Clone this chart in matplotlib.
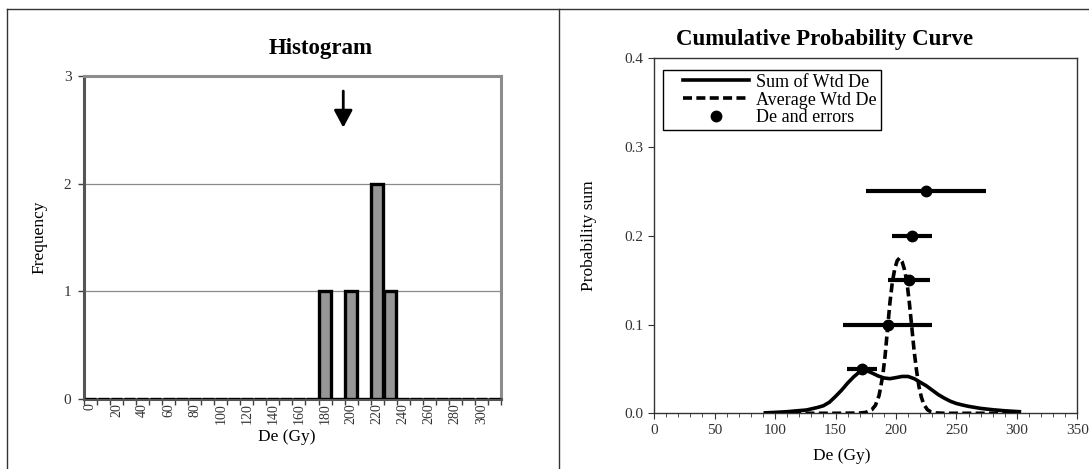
#!/usr/bin/env python3
"""Histogram of De values and the cumulative probability curve, side by side."""

import numpy as np
import matplotlib.pyplot as plt
from matplotlib.lines import Line2D
from matplotlib.legend_handler import HandlerLine2D

# histogram bins (upper bound of each 10 Gy class) and counts
bin_edges = list(range(0, 320, 10))
hist_bins = [180, 200, 220, 230]
hist_freq = [1, 1, 2, 1]
arrow_de = 194

# individual De estimates with their errors, stacked for display
de_values = [172, 193, 211, 213, 224.5]
de_errors = [12.6, 36.6, 17.5, 16.4, 49.5]
de_heights = [0.05, 0.10, 0.15, 0.20, 0.25]

# summed probability curve
sum_x = [92, 100, 110, 120, 126, 135, 140, 145, 150, 155, 160, 165, 170, 175,
         180, 185, 190, 195, 200, 205, 210, 215, 220, 225, 230, 235, 240, 245,
         250, 255, 260, 270, 280, 290, 302]
sum_p = [0.0005, 0.001, 0.0018, 0.003, 0.0037, 0.0065, 0.0085, 0.0125, 0.019,
         0.026, 0.034, 0.041, 0.0468, 0.0485, 0.0455, 0.0422, 0.0398, 0.039,
         0.0402, 0.0415, 0.0415, 0.039, 0.035, 0.031, 0.026, 0.021, 0.017,
         0.0135, 0.011, 0.0093, 0.0078, 0.0055, 0.004, 0.0028, 0.0018]

# weighted average curve
avg_x = [92, 150, 170, 175, 180, 183, 186, 189, 191, 193, 195, 197, 199, 201,
         203, 205, 207, 209, 211, 213, 215, 217, 219, 221, 223, 226, 229, 233,
         240, 300]
avg_p = [0.0, 0.0, 0.0003, 0.001, 0.004, 0.009, 0.02, 0.042, 0.065, 0.095,
         0.125, 0.148, 0.163, 0.172, 0.175, 0.171, 0.162, 0.148, 0.125, 0.098,
         0.07, 0.048, 0.03, 0.018, 0.01, 0.004, 0.0015, 0.0004, 0.0, 0.0]

plt.rcParams["font.family"] = ["Liberation Serif", "DejaVu Serif"]

fig = plt.figure(figsize=(10.89, 4.69), dpi=100)

# page frame and divider between the two panels
fig.add_artist(Line2D([0.0064, 1.0], [0.9808, 0.9808], color="#333333", lw=1))
fig.add_artist(Line2D([0.0064, 0.0064], [0.0, 0.9808], color="#333333", lw=1))
fig.add_artist(Line2D([0.5133, 0.5133], [0.0, 0.9808], color="#333333", lw=1))

# ---- histogram ----
ax1 = fig.add_axes([0.0771, 0.1493, 0.3829, 0.6887])
counts = np.zeros(len(bin_edges))
for b, f in zip(hist_bins, hist_freq):
    counts[bin_edges.index(b)] = f
idx = np.arange(len(bin_edges))
ax1.bar(idx, counts, width=0.9, color="#969696", edgecolor="black",
        linewidth=2.4, zorder=3)

ax1.set_xlim(-0.5, len(bin_edges) - 0.5)
ax1.set_ylim(0, 3)
ax1.set_yticks([0, 1, 2, 3])
ax1.yaxis.grid(True, color="#8a8a8a", lw=0.9)
ax1.set_axisbelow(True)

ax1.set_xticks(np.arange(-0.5, len(bin_edges) + 0.5, 1))
ax1.set_xticklabels([])
ax1.set_xticks(idx[::2], minor=True)
ax1.set_xticklabels([str(v) for v in bin_edges[::2]], minor=True,
                    rotation=90, fontsize=10, color="#333333")
ax1.tick_params(axis="x", which="major", direction="out", length=4,
                width=1, color="#404040")
ax1.tick_params(axis="x", which="minor", length=0, pad=3)
ax1.tick_params(axis="y", direction="out", length=4, width=1, pad=5,
                labelsize=11, color="#404040", labelcolor="#333333")

for side in ["left", "bottom"]:
    ax1.spines[side].set_color("#555555")
    ax1.spines[side].set_linewidth(2.2)
for side in ["top", "right"]:
    ax1.spines[side].set_color("#8c8c8c")
    ax1.spines[side].set_linewidth(2.2)

arrow_pos = arrow_de / 10
ax1.annotate("", xy=(arrow_pos, 2.52), xytext=(arrow_pos, 2.86),
             arrowprops=dict(arrowstyle="-|>,head_width=0.4,head_length=0.75",
                             color="black", lw=2, mutation_scale=14,
                             shrinkA=0, shrinkB=0))

fig.text(0.2943, 0.8970, "Histogram", fontsize=16.5, fontweight="bold",
         ha="center", va="center")
ax1.set_ylabel("Frequency", fontsize=12.5, labelpad=12)
ax1.set_xlabel("De (Gy)", fontsize=12.5)
ax1.xaxis.set_label_coords(0.486, -0.092)

# ---- cumulative probability curve ----
ax2 = fig.add_axes([0.6006, 0.1188, 0.3888, 0.7569])
ax2.plot(sum_x, sum_p, color="black", lw=2.6, label="Sum of Wtd De", zorder=3)
ax2.plot(avg_x, avg_p, color="black", lw=2.6, ls=(0, (2.5, 1.2)),
         label="Average Wtd De", zorder=3)
ax2.errorbar(de_values, de_heights, xerr=de_errors, fmt="none",
             ecolor="black", elinewidth=3, capsize=0, zorder=4)
ax2.plot(de_values, de_heights, "o", color="black", markersize=7.5,
         label="De and errors", zorder=5)

ax2.set_xlim(0, 350)
ax2.set_ylim(0, 0.4)
ax2.set_xticks(np.arange(0, 351, 50))
ax2.set_xticks(np.arange(0, 351, 10), minor=True)
ax2.set_yticks([0.0, 0.1, 0.2, 0.3, 0.4])
ax2.set_yticklabels(["0.0", "0.1", "0.2", "0.3", "0.4"])
ax2.tick_params(which="both", direction="out", labelsize=11,
                color="#333333", labelcolor="#333333")
ax2.tick_params(which="major", length=4)
ax2.tick_params(which="minor", length=3)
for side in ax2.spines.values():
    side.set_color("#333333")
    side.set_linewidth(1)

fig.text(0.7574, 0.9150, "Cumulative Probability Curve", fontsize=16.5,
         fontweight="bold", ha="center", va="center")
ax2.set_ylabel("Probability sum", fontsize=12.5, labelpad=20)
ax2.set_xlabel("De (Gy)", fontsize=12.5)
ax2.xaxis.set_label_coords(0.444, -0.098)

leg = ax2.legend(loc="upper left", bbox_to_anchor=(0.02, 0.967),
                 fontsize=13, frameon=True, fancybox=False,
                 edgecolor="black", framealpha=1, handlelength=4.6,
                 handletextpad=0.4, labelspacing=0.05, borderpad=0.2,
                 borderaxespad=0,
                 handler_map={Line2D: HandlerLine2D(xpad=0.95)})
leg.get_frame().set_linewidth(1)

fig.savefig("out.png", dpi=100)
